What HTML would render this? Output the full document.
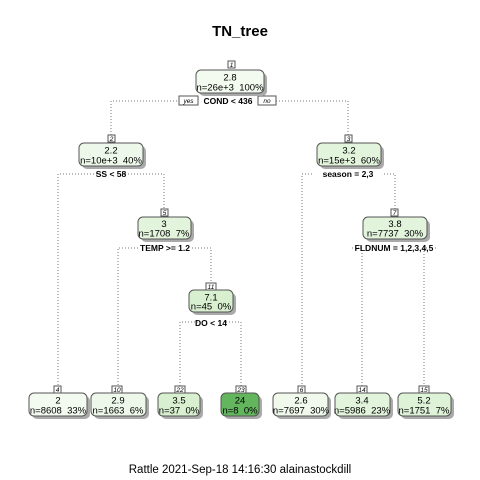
<!DOCTYPE html>
<html><head><meta charset="utf-8"><style>
body{margin:0;background:#fff}
svg{display:block;font-family:"Liberation Sans",sans-serif}
text{white-space:pre}
.b{stroke:#555;stroke-width:1}
.s{fill:#aaa}
.e{stroke:#777;stroke-width:1;stroke-dasharray:1,2;fill:none}
.t{font-size:9.5px;text-anchor:middle;fill:#000}
.l{font-size:8.5px;font-weight:bold;text-anchor:middle}
.n{font-size:6.5px;text-anchor:middle;font-style:italic}
</style></head><body>
<svg width="480" height="480" viewBox="0 0 480 480">
<text x="240" y="36" font-size="15" font-weight="bold" text-anchor="middle">TN_tree</text>
<text x="240" y="473" font-size="11.5" text-anchor="middle">Rattle 2021-Sep-18 14:16:30 alainastockdill</text>

<path class="e" d="M180 101H111V136 M276 101H348V136"/>
<path class="e" d="M100 174H58V386 M122 174H164V210"/>
<path class="e" d="M312 174H302V386 M384 174H395V210"/>
<path class="e" d="M138 248H118V386 M192 248H211V284"/>
<path class="e" d="M352 248H362V386 M436 248H424V386"/>
<path class="e" d="M198 322H180V386 M226 322H241V386"/>

<rect x="179" y="96" width="19" height="9" fill="#fff" class="b" stroke-width="0.6"/><text x="188.5" y="103" class="n">yes</text>
<rect x="258" y="96" width="18" height="9" fill="#fff" class="b" stroke-width="0.6"/><text x="267" y="103" class="n">no</text>

<g>
<rect x="199" y="73" width="68" height="23" rx="5" class="s"/>
<rect x="196" y="70" width="68" height="23" rx="5" fill="#f3fbf0" class="b"/>
<rect x="228" y="61" width="7" height="7" fill="#fff" class="b" stroke-width="0.6"/><text x="231.5" y="67" class="n">1</text>
<text x="230" y="80.5" class="t">2.8</text><text x="230" y="90.5" class="t">n=26e+3  100%</text>
<text x="228" y="104" class="l">COND &lt; 436</text>

<rect x="82" y="146" width="64" height="23" rx="5" class="s"/>
<rect x="79" y="143" width="64" height="23" rx="5" fill="#eef8ea" class="b"/>
<rect x="108" y="135" width="7" height="7" fill="#fff" class="b" stroke-width="0.6"/><text x="111.5" y="141" class="n">2</text>
<text x="111" y="153.5" class="t">2.2</text><text x="111" y="163.5" class="t">n=10e+3  40%</text>
<text x="111" y="177" class="l">SS &lt; 58</text>

<rect x="320" y="146" width="64" height="23" rx="5" class="s"/>
<rect x="317" y="143" width="64" height="23" rx="5" fill="#e2f4dc" class="b"/>
<rect x="345" y="135" width="7" height="7" fill="#fff" class="b" stroke-width="0.6"/><text x="348.5" y="141" class="n">3</text>
<text x="349" y="153.5" class="t">3.2</text><text x="349" y="163.5" class="t">n=15e+3  60%</text>
<text x="348" y="177" class="l">season = 2,3</text>

<rect x="141" y="220" width="53" height="22" rx="5" class="s"/>
<rect x="138" y="217" width="53" height="22" rx="5" fill="#e2f4dc" class="b"/>
<rect x="161" y="209" width="7" height="7" fill="#fff" class="b" stroke-width="0.6"/><text x="164.5" y="215" class="n">5</text>
<text x="164" y="227" class="t">3</text><text x="164" y="236.5" class="t">n=1708  7%</text>
<text x="165" y="251" class="l">TEMP &gt;= 1.2</text>

<rect x="366" y="220" width="64" height="22" rx="5" class="s"/>
<rect x="363" y="217" width="64" height="22" rx="5" fill="#e2f4dc" class="b"/>
<rect x="391" y="209" width="7" height="7" fill="#fff" class="b" stroke-width="0.6"/><text x="394.5" y="215" class="n">7</text>
<text x="395" y="227" class="t">3.8</text><text x="395" y="236.5" class="t">n=7737  30%</text>
<text x="394" y="251" class="l">FLDNUM = 1,2,3,4,5</text>

<rect x="192" y="293" width="44" height="22" rx="5" class="s"/>
<rect x="189" y="290" width="44" height="22" rx="5" fill="#d8efd0" class="b"/>
<rect x="206" y="283" width="10" height="7" fill="#fff" class="b" stroke-width="0.6"/><text x="211" y="289" class="n">11</text>
<text x="211" y="300.5" class="t">7.1</text><text x="211" y="309.5" class="t">n=45  0%</text>
<text x="211" y="326" class="l">DO &lt; 14</text>
</g>

<g>
<rect x="32" y="396" width="58" height="23" rx="5" class="s"/>
<rect x="29" y="393" width="58" height="23" rx="5" fill="#f3fbf0" class="b"/>
<rect x="54" y="386" width="7" height="7" fill="#fff" class="b" stroke-width="0.6"/><text x="57.5" y="392" class="n">4</text>
<text x="58" y="403.5" class="t">2</text><text x="58" y="413.5" class="t">n=8608  33%</text>

<rect x="94" y="396" width="55" height="23" rx="5" class="s"/>
<rect x="91" y="393" width="55" height="23" rx="5" fill="#eef8ea" class="b"/>
<rect x="112" y="386" width="10" height="7" fill="#fff" class="b" stroke-width="0.6"/><text x="117" y="392" class="n">10</text>
<text x="118" y="403.5" class="t">2.9</text><text x="118" y="413.5" class="t">n=1663  6%</text>

<rect x="161" y="396" width="42" height="23" rx="5" class="s"/>
<rect x="158" y="393" width="42" height="23" rx="5" fill="#d8efd0" class="b"/>
<rect x="175" y="386" width="10" height="7" fill="#fff" class="b" stroke-width="0.6"/><text x="180" y="392" class="n">22</text>
<text x="179" y="403.5" class="t">3.5</text><text x="179" y="413.5" class="t">n=37  0%</text>

<rect x="224" y="396" width="38" height="23" rx="5" class="s"/>
<rect x="221" y="393" width="38" height="23" rx="5" fill="#63b65e" class="b"/>
<rect x="236" y="386" width="10" height="7" fill="#fff" class="b" stroke-width="0.6"/><text x="241" y="392" class="n">23</text>
<text x="240" y="403.5" class="t">24</text><text x="240" y="413.5" class="t">n=8  0%</text>

<rect x="276" y="396" width="55" height="23" rx="5" class="s"/>
<rect x="273" y="393" width="55" height="23" rx="5" fill="#f0f9ec" class="b"/>
<rect x="298" y="386" width="7" height="7" fill="#fff" class="b" stroke-width="0.6"/><text x="301.5" y="392" class="n">6</text>
<text x="301" y="403.5" class="t">2.6</text><text x="301" y="413.5" class="t">n=7697  30%</text>

<rect x="338" y="396" width="55" height="23" rx="5" class="s"/>
<rect x="335" y="393" width="55" height="23" rx="5" fill="#e2f4dc" class="b"/>
<rect x="357" y="386" width="10" height="7" fill="#fff" class="b" stroke-width="0.6"/><text x="362" y="392" class="n">14</text>
<text x="362" y="403.5" class="t">3.4</text><text x="362" y="413.5" class="t">n=5986  23%</text>

<rect x="401" y="396" width="53" height="23" rx="5" class="s"/>
<rect x="398" y="393" width="53" height="23" rx="5" fill="#ddf2d6" class="b"/>
<rect x="419" y="386" width="10" height="7" fill="#fff" class="b" stroke-width="0.6"/><text x="424" y="392" class="n">15</text>
<text x="424" y="403.5" class="t">5.2</text><text x="424" y="413.5" class="t">n=1751  7%</text>
</g>
</svg>
</body></html>
